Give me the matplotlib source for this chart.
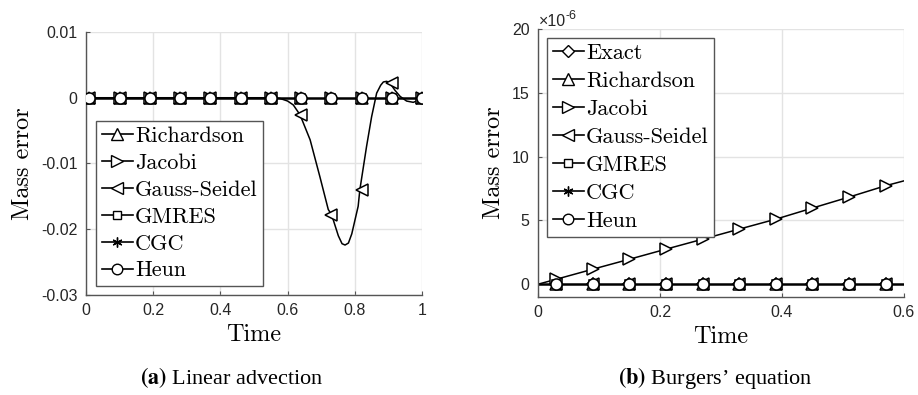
import matplotlib
matplotlib.use("Agg")
import matplotlib.pyplot as plt
from matplotlib.lines import Line2D
import numpy as np

plt.rcParams["axes.unicode_minus"] = False
plt.rcParams["mathtext.fontset"] = "stix"

# ---- (a) Linear advection -------------------------------------------------
adv_names = ["Richardson", "Jacobi", "Gauss-Seidel", "GMRES", "CGC", "Heun"]
adv_markers = ["^", ">", "<", "s", (6, 2, 0), "o"]
adv_mark_t = [0.01, 0.10, 0.19, 0.28, 0.37, 0.46, 0.55, 0.64, 0.73, 0.82, 0.91, 1.0]
adv_zero = [0.0] * len(adv_mark_t)
# Gauss-Seidel: marker values and the traced curve
adv_gs_mark = [0, 0, 0, 0, 0, 0, 0, -0.0026, -0.0178, -0.0141, 0.0022, 0.0]
adv_gs_t = [0.0, 0.55, 0.577, 0.60, 0.617, 0.637, 0.667, 0.696, 0.721, 0.731,
            0.751, 0.762, 0.771, 0.781, 0.791, 0.81, 0.815, 0.835, 0.85, 0.865,
            0.877, 0.885, 0.895, 0.905, 0.92, 0.935, 0.954, 0.974, 0.994, 1.0]
adv_gs_y = [0.0, 0.0, -0.0001, -0.0005, -0.0011, -0.0026, -0.0064, -0.0120, -0.0170, -0.0178,
            -0.0210, -0.0222, -0.0224, -0.0221, -0.0207, -0.0165, -0.0140, -0.0074, -0.0029, 0.0007,
            0.0019, 0.0024, 0.0025, 0.0022, 0.0011, 0.0002, -0.0005, -0.0007, -0.0003, 0.0]

# ---- (b) Burgers' equation (units of 1e-6) ---------------------------------
bur_names = ["Exact", "Richardson", "Jacobi", "Gauss-Seidel", "GMRES", "CGC", "Heun"]
bur_markers = ["D", "^", ">", "<", "s", (6, 2, 0), "o"]
bur_mark_t = [0.03, 0.09, 0.15, 0.21, 0.27, 0.33, 0.39, 0.45, 0.51, 0.57]
bur_zero = [0.0] * len(bur_mark_t)
bur_jac_mark = [0.39, 1.18, 1.96, 2.75, 3.53, 4.32, 5.10, 5.97, 6.83, 7.72]
bur_jac_t = [0.0] + bur_mark_t + [0.6]
bur_jac_y = [0.0] + bur_jac_mark + [8.1]

SERIF = "cmr10"
GRID = "#e3e3e3"
SPINE = "#555555"


def marker_size(m):
    if isinstance(m, tuple):
        return 7.5
    return {"o": 8, "s": 6, "D": 6.5}.get(m, 8.5)


def style_axes(ax):
    ax.grid(True, color=GRID, lw=1.0)
    ax.set_axisbelow(True)
    for side in ("top", "right"):
        ax.spines[side].set_visible(False)
    for side in ("left", "bottom"):
        ax.spines[side].set_color(SPINE)
        ax.spines[side].set_linewidth(1.0)
    ax.tick_params(direction="in", length=3, width=0.8, color=SPINE,
                   labelsize=11.5, labelcolor="#262626", pad=6)
    for lab in ax.get_xticklabels() + ax.get_yticklabels():
        lab.set_fontfamily("Liberation Sans")
    ax.set_xlabel("Time", fontfamily=SERIF, fontsize=17.5, labelpad=4)
    ax.set_ylabel("Mass error", fontfamily=SERIF, fontsize=17.5, labelpad=5)


def add_legend(ax, names, markers, anchor, spacing):
    handles = [Line2D([], [], color="k", lw=1.2, marker=m, ms=marker_size(m) * 0.95,
                      mfc="white", mec="k", mew=1.0) for m in markers]
    leg = ax.legend(handles, names, loc="upper left", bbox_to_anchor=anchor,
                    prop={"family": SERIF, "size": 16}, fancybox=False,
                    framealpha=1, edgecolor=SPINE, handlelength=1.4,
                    handletextpad=0.1, labelspacing=spacing, borderpad=0.25,
                    borderaxespad=0)
    leg.get_frame().set_linewidth(1.0)


fig = plt.figure(figsize=(9.18, 3.95), dpi=100)

# (a)
ax1 = fig.add_axes([0.0937, 0.2532, 0.366, 0.6658])
ax1.plot([0, 1], [0, 0], color="k", lw=1.8, zorder=2)
ax1.plot(adv_gs_t, adv_gs_y, color="k", lw=1.1, zorder=2)
for name, m in zip(adv_names, adv_markers):
    yv = adv_gs_mark if name == "Gauss-Seidel" else adv_zero
    ax1.plot(adv_mark_t, yv, ls="none", marker=m, ms=marker_size(m),
             mfc="white", mec="k", mew=1.1, zorder=3)
ax1.set_xlim(0, 1)
ax1.set_ylim(-0.03, 0.01)
ax1.set_xticks([0, 0.2, 0.4, 0.6, 0.8, 1])
ax1.set_xticklabels(["0", "0.2", "0.4", "0.6", "0.8", "1"])
ax1.set_yticks([-0.03, -0.02, -0.01, 0, 0.01])
ax1.set_yticklabels(["-0.03", "-0.02", "-0.01", "0", "0.01"])
style_axes(ax1)
add_legend(ax1, adv_names, adv_markers, (0.03, 0.662), 0.33)

# (b)
ax2 = fig.add_axes([0.586, 0.2481, 0.3987, 0.6785])
ax2.plot([0, 0.6], [0, 0], color="k", lw=1.8, zorder=2)
ax2.plot(bur_jac_t, bur_jac_y, color="k", lw=1.1, zorder=2)
for name, m in zip(bur_names, bur_markers):
    yv = bur_jac_mark if name == "Jacobi" else bur_zero
    ax2.plot(bur_mark_t, yv, ls="none", marker=m, ms=marker_size(m),
             mfc="white", mec="k", mew=1.1, zorder=3)
ax2.set_xlim(0, 0.6)
ax2.set_ylim(-1.0, 20)
ax2.set_xticks([0, 0.2, 0.4, 0.6])
ax2.set_xticklabels(["0", "0.2", "0.4", "0.6"])
ax2.set_yticks([0, 5, 10, 15, 20])
ax2.set_yticklabels(["0", "5", "10", "15", "20"])
style_axes(ax2)
add_legend(ax2, bur_names, bur_markers, (0.0246, 0.966), 0.38)
fig.text(539 / 918, 1 - 26 / 395, "\u00d710", fontfamily="Liberation Sans",
         fontsize=11.5, color="#262626", ha="left", va="baseline")
fig.text(566 / 918, 1 - 19 / 395, "-6", fontfamily="Liberation Sans",
         fontsize=9, color="#262626", ha="left", va="baseline")

# captions
fig.text(232 / 918, 1 - 384 / 395, r"$\mathbf{(a)}$ Linear advection",
         fontfamily="Liberation Serif", fontsize=16, ha="center", va="baseline")
fig.text(715 / 918, 1 - 384 / 395, r"$\mathbf{(b)}$ Burgers" + "\u2019 equation",
         fontfamily="Liberation Serif", fontsize=16, ha="center", va="baseline")

fig.savefig("out.png", dpi=100)
